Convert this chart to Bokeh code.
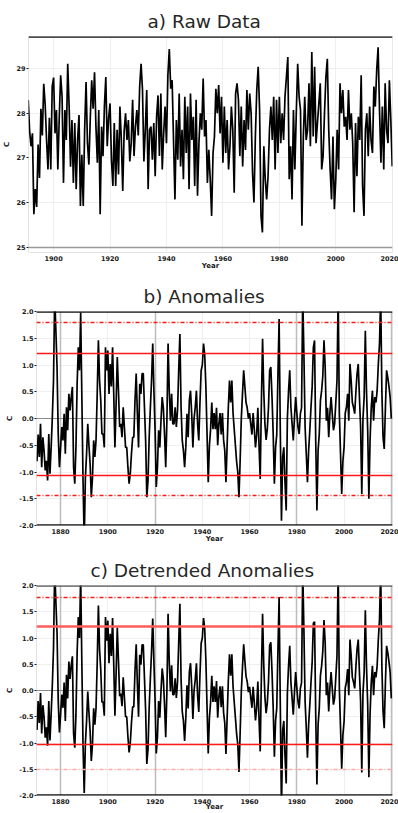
import numpy as np
from bokeh.plotting import figure
from bokeh.layouts import column
from bokeh.models import FixedTicker, NumeralTickFormatter, Range1d
from bokeh.embed import file_html
from bokeh.resources import INLINE

# ---------------- data ----------------
step_years = 0.5

raw_start = 1891.0
raw_temp = [
    28.3, 27.6, 27.26, 27.55, 25.74, 26.3, 25.9, 27.3, 26.55, 28.1,
    27.5, 28.66, 28.2, 27.4, 26.74, 27.9, 26.74, 28.6, 28.8, 27.55,
    28.07, 26.74, 27.9, 28.85, 28.37, 26.44, 28.07, 27.4, 29.11, 28.15,
    26.8, 27.85, 26.44, 27.78, 26.3, 27.4, 27.96, 25.92, 27.07, 25.92,
    27.63, 28.7, 27.33, 26.85, 27.9, 28.74, 28.1, 28.92, 27.7, 26.89,
    28.07, 25.74, 27.7, 27.04, 28.15, 28.81, 27.26, 27.9, 28.22, 26.96,
    26.37, 27.78, 26.37, 27.63, 26.63, 28.15, 27.4, 26.26, 27.6, 28.0,
    27.4, 27.85, 26.92, 27.33, 28.3, 27.04, 27.7, 28.07, 27.5, 28.6,
    29.11, 28.52, 26.92, 27.63, 28.52, 26.3, 27.63,
    27.7, 26.96, 27.78, 26.59, 27.92, 28.4, 27.04, 28.44, 26.74, 27.55,
    28.15, 27.33, 28.85, 29.44, 28.55, 28.74, 27.4, 26.07, 27.85, 26.96,
    28.44, 26.81, 27.63, 26.52, 28.37, 27.11, 28.15, 26.3, 28.44, 27.4,
    27.92, 26.37, 28.3, 26.15, 27.33, 28.0, 27.63, 28.78, 27.48, 27.85,
    26.44, 27.18, 26.52, 25.7, 27.11, 27.48, 28.55, 28.0, 28.63, 27.55,
    28.37, 26.89, 28.15, 27.11, 27.85, 26.74, 27.26, 28.15, 27.63, 26.22,
    28.44, 28.67, 28.3, 27.04, 28.15, 26.81, 27.85, 27.18, 28.52, 27.63,
    28.44, 28.0, 26.66, 26.0, 27.48, 28.52, 29.04, 28.07, 25.7, 25.33,
    27.26, 26.52, 26.07, 26.59, 27.63,
    28.15, 27.4, 28.37, 26.74, 28.3, 27.11, 28.37, 27.33, 28.0, 27.4,
    28.37, 28.81, 29.26, 26.52, 27.26, 26.07, 28.07, 26.74, 28.0, 29.11,
    28.37, 28.07, 25.48, 27.48, 28.37, 27.4, 27.63, 28.67, 27.26, 29.37,
    27.48, 29.04, 27.33, 27.78, 28.22, 28.67, 26.74, 27.04, 28.0, 28.81,
    29.22, 27.63, 26.74, 26.07, 27.48, 25.85, 26.52, 27.63, 26.74, 28.67,
    28.0, 28.52, 27.7, 27.92, 27.4, 28.52, 27.63, 28.0, 27.33, 25.78,
    27.78, 26.59, 27.92, 27.4, 28.85, 26.37, 25.7, 27.63, 28.0, 27.04,
    28.15, 27.4, 27.11, 28.6, 28.15, 28.96, 29.48, 28.07, 26.89, 28.15,
    26.74, 28.67, 27.63, 27.33, 28.74, 27.85, 26.81,
]

anom_start = 1870.0
anomalies = [
    -0.8, -0.3, -0.72, -0.1, -0.91, -0.35, -0.6, -0.97, -0.79, -1.16,
    -0.29, -1.03, -0.54, 0.02, 0.71, 2.3, 1.65, 0.96, -0.3, -0.91,
    -0.54, -0.16, -0.41, 0.09, -0.66, 0.21, -0.22, 0.46, 0.15, 0.4,
    0.59, -0.91, -1.22, -0.54, 0.65, 1.33, 0.9, 1.98, 0.4, -1.16,
    -2.3, -1.1, -0.66, -0.1, -0.5, -0.85, -1.47, -1.1, -0.41, -0.72,
    -0.41, 0.46, 1.46, 0.71, 0.34, -0.29, -0.29, -0.54, 1.33, 0.9,
    1.27, 0.46, 1.02, 0.6, 1.33, 0.46, -0.54, 0.27, 1.15, 0.52,
    -0.16, -0.1, -0.35, 0.21, -0.16, -0.54, -0.54, -0.91, -1.22, -1.03,
    -0.66, -0.35, -0.35, 0.34, 0.84, 0.09, -0.54, 0.65, 0.46, 0.84,
    0.84, 0.21, -0.41, -1.47, -1.16, -0.35, 0.2, 0.71, 1.4, 0.52,
    -0.22, -1.28, -0.91, -0.22, -0.54, -0.04, 0.4, 0.2, -0.29, -0.91,
    -0.04, 1.4, 0.52, -0.04, 0.46, -0.1, -0.1, 0.21, -0.16, 0.15,
    0.9, 1.58, 0.21, -0.41, -0.6, -0.91, -0.54, 0.09, -0.35, 0.34,
    0.52, 0.09, -0.54, 0.0, 0.21, 0.52, -0.1, -0.41, 0.3, 0.9,
    1.0, 1.4, 1.2, 0.6, -0.3, -1.19, -0.5, -0.2, 0.3, -0.2,
    0.1, -0.2, 0.2, -0.5, -0.1, 0.1, -0.3, 0.1, -0.4, -0.6,
    -1.19, -0.5, 0.2, 0.71, 0.3, 0.71, 0.1, -0.2, -0.5, -0.8,
    -1.0, -1.47, -0.8, 0.0, 0.46, 0.9, 0.6, 0.3, 0.2, 0.0,
    0.1, -0.1, -0.3, 0.1, -0.2, -0.54, -0.3, 0.2, -0.5, -1.13,
    0.3, 1.49, 0.52, -0.1, -0.4, -0.2, 0.2, 0.9, 0.96, 0.4,
    -0.3, -1.22, -0.54, -0.3, 0.8, 1.86, -0.22, -1.91, -0.72, -0.54,
    -1.2, -1.72, 0.0, 0.52, 0.9, 0.21, -0.1, -0.41, 0.02, 0.4,
    0.1, -0.16, -0.29, 0.09, 0.2, 2.3, 1.2, -0.16, -0.66, -1.19,
    -0.6, -0.22, 0.21, 0.6, 1.33, 1.46, -0.41, -1.72, -0.6, -0.29,
    0.34, 0.52, 0.8, 1.46, 0.96, -0.04, 0.2, -0.35, 0.1, 0.4,
    0.09, -0.22, -0.1, 0.3, 0.71, 2.3, 0.09, -0.66, -1.41, -0.8,
    -0.54, 0.1, 0.21, 0.46, -0.04, 1.02, 0.71, 0.3, 0.21, 0.09,
    0.5, 0.84, 1.02, 0.4, -0.16, -1.41, 0.0, 0.4, 1.64, 0.5,
    -0.22, -1.5, -0.41, 0.2, 0.52, -0.04, 0.4, 0.3, 0.52, 1.02,
    1.4, 2.3, 0.52, -0.35, -0.57, 0.2, 0.9, 0.77, 0.6, 0.4,
    0.0,
]

detrended = [
    -0.75, -0.2, -0.62, -0.05, -0.82, -0.28, -0.5, -0.9, -0.7, -1.05,
    -0.2, -0.95, -0.45, 0.1, 0.8, 2.3, 1.7, 1.1, -0.2, -0.8,
    -0.45, -0.08, -0.33, 0.15, -0.58, 0.3, -0.15, 0.55, 0.22, 0.48,
    0.65, -0.82, -1.09, -0.46, 0.72, 1.4, 1.0, 2.2, 0.5, -1.05,
    -1.95, -1.0, -0.58, -0.02, -0.42, -0.78, -1.34, -1.02, -0.34, -0.65,
    -0.34, 0.53, 1.62, 0.78, 0.4, -0.22, -0.22, -0.48, 1.4, 0.95,
    1.33, 0.52, 1.08, 0.66, 1.38, 0.5, -0.48, 0.32, 1.2, 0.56,
    -0.11, -0.06, -0.3, 0.25, -0.12, -0.5, -0.5, -0.88, -1.18, -1.0,
    -0.62, -0.31, -0.31, 0.38, 0.88, 0.13, -0.5, 0.68, 0.49, 0.87,
    0.87, 0.24, -0.38, -1.4, -1.12, -0.32, 0.23, 0.74, 1.37, 0.55,
    -0.2, -1.2, -0.88, -0.2, -0.52, -0.02, 0.42, 0.22, -0.27, -0.89,
    -0.02, 1.46, 0.54, -0.02, 0.48, -0.08, -0.08, 0.23, -0.14, 0.16,
    0.92, 1.65, 0.22, -0.4, -0.58, -0.96, -0.53, 0.1, -0.34, 0.35,
    0.52, 0.09, -0.54, 0.0, 0.21, 0.52, -0.1, -0.41, 0.3, 0.9,
    1.0, 1.38, 1.18, 0.58, -0.32, -1.2, -0.52, -0.22, 0.28, -0.22,
    0.08, -0.22, 0.18, -0.52, -0.12, 0.08, -0.32, 0.08, -0.42, -0.62,
    -1.21, -0.52, 0.18, 0.69, 0.28, 0.69, 0.08, -0.22, -0.52, -0.82,
    -1.02, -1.55, -0.82, -0.02, 0.44, 0.88, 0.57, 0.27, 0.17, -0.03,
    0.07, -0.13, -0.33, 0.07, -0.23, -0.57, -0.33, 0.17, -0.53, -1.16,
    0.27, 1.46, 0.49, -0.13, -0.43, -0.24, 0.16, 0.86, 0.92, 0.36,
    -0.34, -1.26, -0.58, -0.34, 0.76, 1.78, -0.26, -2.3, -0.76, -0.58,
    -1.24, -1.77, -0.05, 0.47, 0.85, 0.16, -0.15, -0.46, -0.03, 0.35,
    0.05, -0.21, -0.34, 0.04, 0.15, 2.3, 1.15, -0.21, -0.71, -1.28,
    -0.65, -0.27, 0.16, 0.55, 1.28, 1.31, -0.46, -1.79, -0.65, -0.34,
    0.29, 0.47, 0.75, 1.34, 0.91, -0.09, 0.15, -0.4, 0.05, 0.35,
    0.04, -0.27, -0.15, 0.25, 0.66, 2.3, 0.04, -0.71, -1.49, -0.85,
    -0.59, 0.05, 0.16, 0.41, -0.09, 0.97, 0.66, 0.25, 0.16, 0.04,
    0.45, 0.79, 0.97, 0.35, -0.21, -1.56, -0.05, 0.35, 1.53, 0.45,
    -0.27, -1.65, -0.46, 0.15, 0.47, -0.09, 0.35, 0.25, 0.47, 0.97,
    1.35, 2.3, 0.47, -0.4, -0.72, 0.15, 0.85, 0.72, 0.55, 0.35,
    -0.15,
]

# threshold levels (C)
anom_solid_levels = [1.215, -1.065]
anom_dashed_levels = [1.80, -1.445]
detr_solid_upper = [1.21]
detr_solid_lower = [-1.03]
detr_dashed_upper = [1.78]
detr_dashed_lower = [-1.50]
marker_years = [1880, 1920, 1980, 2020]

raw_yticks = [25, 26, 27, 28, 29]
anom_yticks = [-2.0, -1.5, -1.0, -0.5, 0.0, 0.5, 1.0, 1.5, 2.0]
raw_xticks = [1900, 1920, 1940, 1960, 1980, 2000, 2020]
anom_xticks = [1880, 1900, 1920, 1940, 1960, 1980, 2000, 2020]
raw_baseline = [25]
zero_line = [0.0]

titles = ["a) Raw Data", "b) Anomalies", "c) Detrended Anomalies"]

TICK_FONT = "DejaVu Sans"
RED = "#ff1a1a"
DASH = "4 2 1 2"


def make_fig(height, xr, yr, border_left, border_top, border_bottom, title, title_offset,
             xticks, yticks, ylab_fmt, xlab_standoff):
    p = figure(width=398, height=height,
               x_range=Range1d(*xr), y_range=Range1d(*yr),
               output_backend="svg", toolbar_location=None,
               min_border_left=border_left, min_border_right=6,
               min_border_top=border_top, min_border_bottom=border_bottom)
    p.frame_align = False
    p.background_fill_color = "white"
    p.border_fill_color = "white"
    p.outline_line_color = "#e3e3e3"
    p.outline_line_width = 1

    p.title.text = title
    p.title.align = "left"
    p.title.offset = title_offset
    p.title.text_font = "DejaVu Sans"
    p.title.text_font_style = "normal"
    p.title.text_font_size = "18.5px"
    p.title.text_color = "#262626"
    p.title.standoff = 10

    for ax in (p.xaxis[0], p.yaxis[0]):
        ax.axis_line_color = None
        ax.minor_tick_line_color = None
        ax.major_label_text_font = TICK_FONT
        ax.major_label_text_font_style = "bold"
        ax.major_label_text_font_size = "6.5px"
        ax.major_label_text_color = "#1a1a1a"
        ax.axis_label_text_font = TICK_FONT
        ax.axis_label_text_font_style = "bold"
        ax.axis_label_text_font_size = "7px"
        ax.axis_label_text_color = "#1a1a1a"

    xa = p.xaxis[0]
    xa.ticker = FixedTicker(ticks=xticks)
    xa.major_tick_line_color = None
    xa.major_tick_out = 0
    xa.major_tick_in = 0
    xa.major_label_standoff = 3
    xa.axis_label = "Year"
    xa.axis_label_standoff = xlab_standoff

    ya = p.yaxis[0]
    ya.ticker = FixedTicker(ticks=yticks)
    ya.major_tick_line_color = "#1a1a1a"
    ya.major_tick_out = 2
    ya.major_tick_in = 0
    ya.major_label_standoff = 1
    ya.axis_label = "C"
    ya.axis_label_standoff = 2
    if ylab_fmt:
        ya.formatter = NumeralTickFormatter(format=ylab_fmt)

    p.xgrid.ticker = FixedTicker(ticks=xticks)
    p.ygrid.ticker = FixedTicker(ticks=yticks)
    p.xgrid.grid_line_color = "#efefef"
    p.ygrid.grid_line_color = "#efefef"
    return p


# ---------------- panel a ----------------
pa = make_fig(276, (1891.1, 2020.1), (24.88, 29.72), 28, 36, 24,
              titles[0], 119, raw_xticks, raw_yticks, None, -2)
raw_x = raw_start + step_years * np.arange(len(raw_temp))
pa.hspan(y=raw_baseline, line_color="#9a9a9a", line_width=1.3)
pa.line(raw_x, raw_temp, line_color="black", line_width=1.7)
pa.hspan(y=[pa.y_range.end], line_color="#111111", line_width=2.5)


def anomaly_panel(p, xs, ys, top_color):
    p.vspan(x=marker_years, line_color="#bdbdbd", line_width=1.5)
    p.hspan(y=zero_line, line_color="#8c8c8c", line_width=1.2)
    p.line(xs, ys, line_color="black", line_width=1.7)
    p.hspan(y=[anom_yticks[-1]], line_color=top_color, line_width=2.5)
    p.hspan(y=[anom_yticks[0]], line_color="#111111", line_width=2.5)


# ---------------- panel b ----------------
pb = make_fig(276, (1869.8, 2020.5), (-2.0, 2.0), 36, 35, 27,
              titles[1], 107, anom_xticks, anom_yticks, "0.0", -2)
anom_x = anom_start + step_years * np.arange(len(anomalies))
anomaly_panel(pb, anom_x, anomalies, "#111111")
for lv in anom_solid_levels:
    pb.hspan(y=[lv], line_color=RED, line_width=1.5)
for lv in anom_dashed_levels:
    pb.hspan(y=[lv], line_color=RED, line_width=1.3, line_dash=DASH)

# ---------------- panel c ----------------
pc = make_fig(261, (1869.8, 2020.5), (-2.0, 2.0), 36, 32, 15,
              titles[2], 54, anom_xticks, anom_yticks, "0.0", -4)
detr_x = anom_start + step_years * np.arange(len(detrended))
anomaly_panel(pc, detr_x, detrended, "#555555")
pc.hspan(y=detr_solid_upper, line_color="#ff5c5c", line_width=2.3)
pc.hspan(y=detr_solid_lower, line_color=RED, line_width=1.5)
pc.hspan(y=detr_dashed_upper, line_color=RED, line_width=1.3, line_dash=DASH)
pc.hspan(y=detr_dashed_lower, line_color="#ffaaaa", line_width=1.3, line_dash=DASH)

layout = column(pa, pb, pc, spacing=0)
open("out.html", "w").write(file_html(layout, INLINE))
